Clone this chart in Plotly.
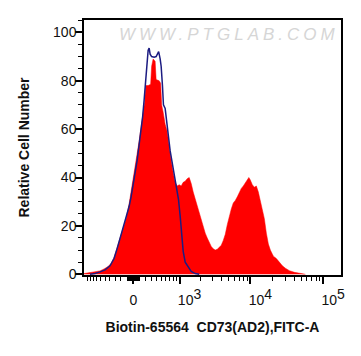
import numpy as np
import plotly.graph_objects as go

# ---- data (256-channel biexponential display scale) ----
sample_channel = [0, 4, 8, 12, 16, 20, 24, 27, 30, 33, 36, 39, 42, 45, 47, 49, 51, 53, 55, 57,
                  59, 60.5, 61.5, 64, 66.5, 67.5, 69, 71, 72, 75, 76.5, 77.5, 79, 81, 83, 85, 87,
                  89, 91, 93, 95, 97, 99, 101, 103, 105, 107, 109, 111, 113, 115, 117, 119, 121,
                  123, 125, 127, 129, 131, 133, 135, 137, 139, 141, 143, 145, 147, 149, 151, 153,
                  155, 157, 159, 161, 163, 164.5, 166, 168, 170, 172, 174, 176, 178, 180, 182,
                  184, 186, 189, 192, 195, 198, 201, 205, 210, 215, 221]
sample_count = [0.3, 0.5, 0.7, 1.0, 1.4, 2.2, 3.2, 4.5, 7, 11, 15, 19, 23, 29, 34, 40, 44, 49, 55, 61,
                66, 71, 78, 78, 78.5, 86, 89, 88, 80.5, 80, 79, 70, 67, 62, 59, 52, 47,
                42, 38, 36.5, 37, 36.5, 38, 38.5, 39.5, 40, 37.5, 34, 31, 28, 26, 23, 20, 17,
                15, 13, 11.5, 10.5, 10, 10.3, 11, 12, 14, 16.5, 20.5, 24, 27, 29.5, 30.5, 32,
                34, 35.5, 36.5, 38, 39.5, 40, 39, 37, 36, 36.5, 34, 30, 27, 23, 17,
                12.5, 10, 7.5, 6.5, 5, 3.5, 2.5, 1.5, 0.8, 0.3, 0]

control_channel = [6, 11, 16, 21, 26, 30, 33, 36, 39, 42, 45, 47, 49, 51, 53, 55, 57, 58.5, 60,
                   61.5, 63, 64, 65, 66, 67.5, 70, 72, 73.5, 74.5, 76, 77, 78.3, 79.3, 81, 82.5,
                   84.3, 86, 89.3, 92, 94.3, 96, 97.5, 99, 101, 104, 107, 111, 115]
control_count = [0, 0.3, 1.0, 1.8, 3.5, 6.5, 10.5, 15, 19, 23, 28, 32, 38, 42, 47, 53, 60, 65, 72,
                 80, 89, 92.5, 93.5, 91, 90, 89.7, 90, 91.5, 92, 89, 86, 78, 70, 68.5, 63,
                 55.5, 51, 43, 37, 31, 24, 16, 9.5, 5, 3, 1.2, 0.3, 0]

y_major = [0, 20, 40, 60, 80, 100]
x_major_values = [0, 1e3, 1e4, 1e5]
x_major_labels = ["0",
                  "10<sup><span style='font-size:14px'>3</span></sup>",
                  "10<sup><span style='font-size:14px'>4</span></sup>",
                  "10<sup><span style='font-size:14px'>5</span></sup>"]
x_minor_values = ([-100 * k for k in range(1, 11)] + [10 * k for k in range(-9, 10) if k != 0]
                  + [100 * k for k in range(1, 10)] + [1000 * k for k in range(2, 10)]
                  + [10000 * k for k in range(2, 10)])

# ---- biexponential display transform (value -> channel) ----
ZERO_CH = 49.3
CH_PER_DECADE = 72.5
WIDTH_W = 245.0


def biex(v):
    v = np.asarray(v, dtype=float)
    return ZERO_CH + CH_PER_DECADE * np.arcsinh(v / (2 * WIDTH_W)) / np.log(10)


X_RANGE = [0, 256.5]
major_pos = biex(x_major_values)
label_pos = [p + (0 if lab == "0" else 10) for p, lab in zip(major_pos, x_major_labels)]

fig = go.Figure()
fig.add_trace(go.Scatter(x=sample_channel, y=sample_count, mode="lines",
                         line=dict(color="#ff0000", width=0.5),
                         fill="tozeroy", fillcolor="#ff0000", hoverinfo="skip",
                         showlegend=False))
fig.add_trace(go.Scatter(x=control_channel, y=control_count, mode="lines",
                         line=dict(color="#1c1c82", width=1.5),
                         hoverinfo="skip", showlegend=False))
fig.add_trace(go.Scatter(x=[], y=[], xaxis="x2", showlegend=False))

tickfont = dict(family="Liberation Sans, Arial, sans-serif", size=14, color="#111111")

fig.update_layout(
    width=361, height=356,
    margin=dict(l=84, r=20, t=20, b=81),
    paper_bgcolor="white", plot_bgcolor="white",
    showlegend=False,
    xaxis=dict(range=X_RANGE, showgrid=False, zeroline=False,
               showline=True, linecolor="black", linewidth=1.5, mirror=True,
               tickmode="array", tickvals=list(major_pos), showticklabels=False,
               ticks="outside", ticklen=7, tickwidth=2, tickcolor="black",
               minor=dict(tickmode="array", tickvals=list(biex(x_minor_values)),
                          ticks="outside", ticklen=4, tickwidth=1, tickcolor="black"),
               title=dict(text="Biotin-65564  CD73(AD2),FITC-A",
                          font=dict(family="Liberation Sans, Arial, sans-serif", size=14,
                                    color="#111111", weight="bold"),
                          standoff=39)),
    xaxis2=dict(range=X_RANGE, overlaying="x", side="bottom", anchor="y",
                showgrid=False, zeroline=False, showline=False,
                ticks="outside", ticklen=12, tickcolor="rgba(0,0,0,0)",
                tickmode="array", tickvals=label_pos, ticktext=x_major_labels,
                tickfont=tickfont),
    yaxis=dict(range=[-0.3, 105.1], showgrid=False, zeroline=False,
               showline=True, linecolor="black", linewidth=1.5, mirror=True,
               tickmode="array", tickvals=y_major, ticks="outside", ticklen=7, tickwidth=2,
               tickcolor="black", tickfont=tickfont, ticklabelstandoff=-4,
               minor=dict(tick0=0, dtick=5, ticks="outside", ticklen=4, tickwidth=1,
                          tickcolor="black"),
               title=dict(text="Relative Cell Number",
                          font=dict(family="Liberation Sans, Arial, sans-serif", size=14,
                                    color="#111111", weight="bold"),
                          standoff=20)),
    annotations=[dict(text="<span style='letter-spacing:4px'><i>WWW.PTGLAB.COM</i></span>",
                      xref="paper", yref="paper", x=0.566, y=0.945,
                      xanchor="center", yanchor="middle", showarrow=False,
                      font=dict(family="Liberation Sans, Arial, sans-serif", size=17,
                                color="#d6d6d6"))],
)

fig.write_html("out.html", config={"displayModeBar": False},
               post_script="document.body.style.margin='0';")
